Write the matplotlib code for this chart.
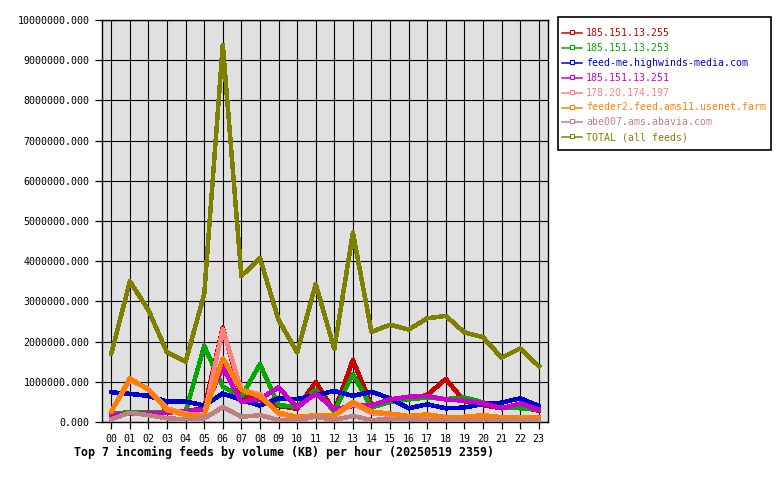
import matplotlib
matplotlib.use("Agg")
import matplotlib.pyplot as plt
from matplotlib.lines import Line2D
from matplotlib.patches import Rectangle
from matplotlib.ticker import FuncFormatter, MultipleLocator

hours = ["00", "01", "02", "03", "04", "05", "06", "07", "08", "09", "10", "11",
         "12", "13", "14", "15", "16", "17", "18", "19", "20", "21", "22", "23"]

feed_255 = [0.19, 0.23, 0.24, 0.26, 0.28, 0.33, 2.35, 0.65, 0.55, 0.40, 0.33, 1.00,
            0.26, 1.54, 0.42, 0.50, 0.59, 0.67, 1.07, 0.52, 0.42, 0.34, 0.38, 0.28]
feed_253 = [0.21, 0.24, 0.24, 0.24, 0.26, 1.89, 0.88, 0.63, 1.44, 0.42, 0.38, 0.80,
            0.26, 1.19, 0.36, 0.50, 0.56, 0.61, 0.57, 0.61, 0.49, 0.38, 0.34, 0.31]
feed_highwinds = [0.74, 0.70, 0.65, 0.51, 0.51, 0.41, 0.71, 0.55, 0.41, 0.59, 0.57, 0.67,
                  0.77, 0.65, 0.75, 0.59, 0.34, 0.44, 0.34, 0.36, 0.45, 0.48, 0.59, 0.40]
feed_251 = [0.17, 0.21, 0.21, 0.23, 0.27, 0.30, 1.36, 0.50, 0.57, 0.86, 0.36, 0.71,
            0.32, 0.40, 0.41, 0.56, 0.63, 0.65, 0.56, 0.53, 0.47, 0.34, 0.46, 0.31]
feed_197 = [0.26, 1.04, 0.82, 0.34, 0.21, 0.17, 2.31, 0.80, 0.69, 0.20, 0.11, 0.15,
            0.15, 0.45, 0.22, 0.18, 0.13, 0.16, 0.10, 0.11, 0.15, 0.10, 0.09, 0.10]
feed_feeder2 = [0.26, 1.09, 0.80, 0.30, 0.17, 0.15, 1.58, 0.80, 0.63, 0.23, 0.13, 0.17,
                0.17, 0.50, 0.26, 0.21, 0.15, 0.19, 0.12, 0.13, 0.17, 0.12, 0.11, 0.12]
feed_abe007 = [0.07, 0.23, 0.17, 0.09, 0.07, 0.09, 0.37, 0.13, 0.17, 0.05, 0.05, 0.13,
               0.05, 0.15, 0.05, 0.07, 0.07, 0.05, 0.05, 0.05, 0.05, 0.05, 0.05, 0.05]
total = [1.70, 3.50, 2.78, 1.73, 1.50, 3.18, 9.38, 3.63, 4.08, 2.54, 1.73, 3.43,
         1.82, 4.71, 2.24, 2.42, 2.30, 2.58, 2.64, 2.23, 2.11, 1.60, 1.83, 1.39]

series_names = ["185.151.13.255", "185.151.13.253", "feed-me.highwinds-media.com",
                "185.151.13.251", "178.20.174.197", "feeder2.feed.ams11.usenet.farm",
                "abe007.ams.abavia.com", "TOTAL (all feeds)"]
series_values = [feed_255, feed_253, feed_highwinds, feed_251, feed_197,
                 feed_feeder2, feed_abe007, total]
colors = ["#cc0000", "#00aa00", "#0000cc", "#cc00cc", "#ff8080",
          "#ff8000", "#c08080", "#808000"]

title = "Top 7 incoming feeds by volume (KB) per hour (20250519 2359)"

mono = "DejaVu Sans Mono"
plt.rcParams["font.family"] = mono

W, H = 780, 480
fig = plt.figure(figsize=(7.8, 4.8), dpi=100)
fig.patch.set_facecolor("white")
ax = fig.add_axes([102 / W, 58 / H, 446 / W, 402 / H])
ax.set_facecolor("#e0e0e0")

x = list(range(len(hours)))
for vals, c in zip(series_values, colors):
    ax.plot(x, [v * 1e6 for v in vals], color=c, lw=2.5, solid_joinstyle="round",
            antialiased=False, zorder=3)

ax.set_xlim(-0.5, len(hours) - 0.5)
ax.set_ylim(0, 10e6)
ax.set_xticks(x)
ax.set_xticklabels(hours)
ax.yaxis.set_major_locator(MultipleLocator(1e6))
ax.yaxis.set_major_formatter(FuncFormatter(lambda v, p: "%.3f" % v))
ax.grid(True, color="black", lw=0.8, zorder=1)
ax.set_axisbelow(True)
for s in ax.spines.values():
    s.set_color("black")
    s.set_linewidth(1.0)
ax.tick_params(axis="both", direction="out", length=5, width=0.9, colors="black",
               labelsize=7.2, pad=4)

fig.text(74 / W, 1 - 452 / H, title, fontsize=8.35, fontweight="bold",
         ha="left", va="center", family=mono)

# legend box drawn in figure pixel coordinates
fig.patches.append(Rectangle((558 / W, 1 - 150 / H), (771 - 558) / W, (150 - 17) / H,
                             transform=fig.transFigure, facecolor="white",
                             edgecolor="black", lw=1.2, zorder=5))
for i, (name, c) in enumerate(zip(series_names, colors)):
    yy = 1 - (33 + i * 14.9) / H
    fig.add_artist(Line2D([562 / W, 582 / W], [yy, yy], transform=fig.transFigure,
                          color=c, lw=1.1, zorder=6))
    fig.add_artist(Line2D([572 / W], [yy + 1 / H], transform=fig.transFigure,
                          color=c, marker="s", markersize=3, markerfacecolor="white",
                          markeredgecolor=c, markeredgewidth=0.8, zorder=7))
    fig.text(586 / W, yy, name, color=c, fontsize=7.1, ha="left", va="center",
             family=mono, zorder=7)

fig.savefig("out.png", dpi=100, facecolor="white")
